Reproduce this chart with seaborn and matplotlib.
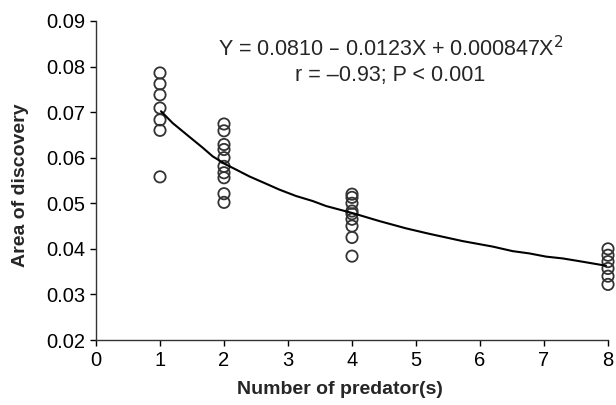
import matplotlib
matplotlib.use("Agg")
import matplotlib.pyplot as plt
import seaborn as sns
import pandas as pd

# Observed data
pred_1 = [1] * 7
area_1 = [0.0786, 0.0762, 0.0738, 0.0709, 0.0683, 0.0660, 0.0558]
pred_2 = [2] * 10
area_2 = [0.0674, 0.0659, 0.0629, 0.0618, 0.0600, 0.0581, 0.0567, 0.0556, 0.0521, 0.0502]
pred_4 = [4] * 9
area_4 = [0.0520, 0.0513, 0.0500, 0.0483, 0.0477, 0.0465, 0.0450, 0.0425, 0.0384]
pred_8 = [8] * 6
area_8 = [0.0400, 0.0386, 0.0372, 0.0357, 0.0340, 0.0322]

# Fitted curve
curve_x = [1.016, 1.198, 1.354, 1.510, 1.667, 1.823, 2.031, 2.188, 2.396, 2.656,
           2.865, 3.125, 3.385, 3.594, 4.021, 4.427, 4.844, 5.208, 5.469, 5.729,
           6.198, 6.510, 6.771, 7.031, 7.292, 7.552, 7.969]
curve_y = [0.0702, 0.0676, 0.0658, 0.0640, 0.0622, 0.0603, 0.0585, 0.0574, 0.0559, 0.0543,
           0.0530, 0.0516, 0.0505, 0.0494, 0.0478, 0.0461, 0.0445, 0.0433, 0.0425, 0.0417,
           0.0405, 0.0395, 0.0390, 0.0383, 0.0379, 0.0373, 0.0363]

x_ticks = [0, 1, 2, 3, 4, 5, 6, 7, 8]
y_ticks = [0.02, 0.03, 0.04, 0.05, 0.06, 0.07, 0.08, 0.09]

pts = pd.DataFrame({
    "x": pred_1 + pred_2 + pred_4 + pred_8,
    "y": area_1 + area_2 + area_4 + area_8,
})
crv = pd.DataFrame({"x": curve_x, "y": curve_y})

sns.set_theme(style="ticks")
plt.rcParams["font.family"] = ["Liberation Sans", "DejaVu Sans"]

fig = plt.figure(figsize=(6.16, 4.05), dpi=100)
ax = fig.add_axes([96 / 616, 1 - 340 / 405, (608 - 96) / 616, (340 - 21) / 405])

sns.lineplot(data=crv, x="x", y="y", ax=ax, color="black", lw=1.5,
             sort=False, estimator=None, zorder=3)
sns.scatterplot(data=pts, x="x", y="y", ax=ax, marker="o", s=66,
                facecolor="none", edgecolor="#333333", linewidth=1.3,
                zorder=2, clip_on=False)

ax.set_xlim(0, 8)
ax.set_ylim(0.02, 0.09)
ax.set_xticks(x_ticks)
ax.set_yticks(y_ticks)
ax.set_xticklabels([str(t) for t in x_ticks])
ax.set_yticklabels([f"{t:.2f}" for t in y_ticks])
ax.tick_params(axis="both", labelsize=14.5, colors="black", length=4,
               width=1, direction="out", pad=4)
for s in ["top", "right"]:
    ax.spines[s].set_visible(False)
for s in ["left", "bottom"]:
    ax.spines[s].set_color("#333333")
    ax.spines[s].set_linewidth(1)

ax.set_xlabel("Number of predator(s)", fontsize=14, fontweight="bold")
ax.set_ylabel("Area of discovery", fontsize=14, fontweight="bold")
ax.xaxis.set_label_coords(0.4766, -0.128)
ax.yaxis.set_label_coords(-0.131, 0.486)

ax.text(0.575, 0.915, "Y = 0.0810 \u2013 0.0123X + 0.000847X$^2$",
        transform=ax.transAxes, ha="center", va="center", fontsize=15.5)
ax.text(0.575, 0.829, "r = \u20130.93; P < 0.001",
        transform=ax.transAxes, ha="center", va="center", fontsize=15.5)

fig.savefig("out.png", dpi=100)
